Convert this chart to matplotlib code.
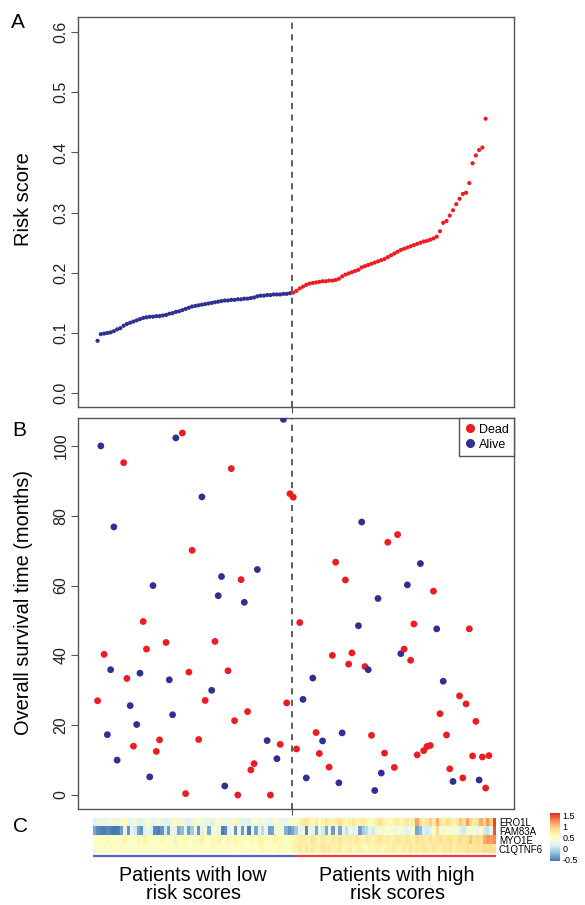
import matplotlib
matplotlib.use('Agg')
import matplotlib.pyplot as plt
from matplotlib.colors import LinearSegmentedColormap
from matplotlib.lines import Line2D

plt.rcParams['font.family'] = ['Liberation Sans', 'DejaVu Sans']

# Panel A - risk score of each patient, sorted
risk_score = [
    0.087, 0.098, 0.099, 0.100, 0.101, 0.103, 0.106, 0.108, 0.112, 0.115,
    0.117, 0.119, 0.121, 0.123, 0.125, 0.126, 0.127, 0.127, 0.128, 0.128,
    0.129, 0.130, 0.132, 0.133, 0.135, 0.136, 0.138, 0.140, 0.142, 0.144,
    0.145, 0.146, 0.147, 0.148, 0.149, 0.150, 0.151, 0.152, 0.153, 0.154,
    0.154, 0.155, 0.155, 0.156, 0.156, 0.157, 0.157, 0.158, 0.159, 0.161,
    0.162, 0.162, 0.163, 0.163, 0.164, 0.164, 0.164, 0.165, 0.165, 0.166,
    0.167, 0.170, 0.174, 0.177, 0.180, 0.182, 0.183, 0.184, 0.185, 0.186,
    0.186, 0.187, 0.187, 0.188, 0.190, 0.194, 0.197, 0.199, 0.201, 0.203,
    0.205, 0.209, 0.211, 0.213, 0.215, 0.217, 0.219, 0.221, 0.223, 0.226,
    0.229, 0.232, 0.235, 0.238, 0.240, 0.242, 0.244, 0.246, 0.248, 0.250,
    0.252, 0.253, 0.255, 0.257, 0.260, 0.269, 0.283, 0.286, 0.295, 0.304,
    0.314, 0.323, 0.331, 0.333, 0.349, 0.382, 0.395, 0.404, 0.408, 0.456,
]
n_low = 60
cutoff = 60.5

# Panel B - survival time and status, by patient rank
os_index = [
    1, 2, 3, 4, 5, 6, 7, 9, 10, 11, 12, 13, 14, 15, 16, 17, 18, 19, 20, 22,
    23, 24, 25, 27, 28, 29, 30, 32, 33, 34, 36, 37, 38, 39, 40, 41, 42, 43, 44, 45,
    46, 47, 48, 49, 50, 53, 54, 56, 57, 58, 59, 60,
    61, 62, 63, 64, 65, 67, 68, 69, 70, 72, 73, 74, 75, 76, 77, 78, 79, 81, 82, 83,
    84, 85, 86, 87, 88, 89, 90, 92, 93, 94, 95, 96, 97, 98, 99, 100, 101, 102, 103, 104,
    105, 106, 107, 108, 109, 110, 112, 113, 114, 115, 116, 117, 118, 119, 120, 121,
]
os_months = [
    27.0, 100.0, 40.3, 17.3, 35.9, 76.8, 10.0, 95.2, 33.4, 25.6,
    14.0, 20.2, 34.9, 49.7, 41.8, 5.2, 60.0, 12.5, 15.8, 43.7,
    33.0, 23.0, 102.3, 103.7, 0.4, 35.2, 70.1, 15.9, 85.4, 27.1,
    30.0, 44.0, 57.1, 62.6, 2.6, 35.6, 93.5, 21.3, 0.0, 61.7,
    55.2, 23.9, 7.2, 9.0, 64.6, 15.6, 0.0, 10.4, 14.5, 107.6,
    26.4, 86.3,
    85.3, 13.2, 49.4, 27.4, 4.9, 33.5, 17.9, 11.9, 15.5, 8.0,
    40.0, 66.7, 3.5, 17.8, 61.6, 37.5, 40.7, 48.5, 78.2, 36.8,
    35.9, 17.1, 1.3, 56.3, 6.3, 12.0, 72.4, 7.9, 74.6, 40.5,
    41.8, 60.2, 38.6, 49.0, 11.5, 66.3, 12.7, 13.9, 14.2, 58.4,
    47.6, 23.3, 32.6, 17.2, 7.5, 3.9, 28.4, 4.9, 26.1, 47.6,
    11.2, 21.1, 4.3, 10.9, 2.0, 11.3,
]
os_status = (
    'D A D A A A A D D A  D A A D D A A D D D  A A A D D D D D A D  '
    'A D A A A D D D D D  A D D D A A D A D A  D D '
    'D D D A A A D D A D  D D A A D D D A A D  A D A A A D D D D A  '
    'D A D D D A D D D D  A D A D D A D D D D  D D A D D D'
).split()

# Panel C - expression of the signature genes
genes = ['ERO1L', 'FAM83A', 'MYO1E', 'C1QTNF6']
ero1l = [
    0.15, 0.3, 0.25, 0.2, 0.3, 0.35, 0.3, 0.25, 0.45, 0.55,
    0.3, 0.25, 0.4, 0.15, 0.2, 0.35, 0.45, 0.3, 0.25, 0.4,
    0.3, 0.15, 0.2, 0.35, 0.55, 0.3, 0.4, 0.25, 0.15, 0.3,
    0.4, 0.55, 0.35, 0.25, 0.3, 0.15, 0.35, 0.45, 0.3, 0.25,
    0.35, 0.4, 0.6, 0.3, 0.2, 0.25, 0.15, 0.35, 0.45, 0.3,
    0.4, 0.35, 0.2, 0.3, 0.45, 0.35, 0.3, 0.25, 0.4, 0.5,
    0.45, 0.6, 0.75, 0.8, 0.7, 0.6, 0.75, 0.55, 0.65, 0.8,
    0.7, 0.6, 0.75, 0.85, 0.65, 0.55, 0.7, 0.8, 0.6, 0.7,
    0.75, 0.65, 0.55, 0.6, 0.7, 0.85, 0.7, 0.6, 0.55, 0.65,
    0.75, 0.6, 0.7, 0.8, 0.65, 0.75, 1.15, 0.85, 0.7, 0.8,
    0.95, 0.75, 1.1, 0.8, 0.7, 0.9, 0.75, 0.65, 0.8, 1.0,
    0.85, 1.15, 0.9, 0.75, 0.85, 1.1, 0.9, 1.2, 0.95, 1.5,
]
fam83a = [
    -0.3, -0.45, -0.5, -0.5, -0.45, -0.5, -0.55, -0.5, -0.35, 0.2,
    -0.4, 0.25, 0.1, -0.3, -0.4, 0.2, 0.35, 0.15, -0.45, -0.5,
    -0.4, 0.1, -0.35, 0.3, 0.2, -0.3, -0.2, 0.25, -0.35, -0.1,
    0.3, -0.4, 0.2, 0.35, -0.3, 0.3, 0.4, 0.25, -0.5, -0.45,
    0.2, 0.35, -0.4, 0.3, -0.35, 0.25, -0.5, 0.3, -0.3, 0.2,
    0.0, 0.3, -0.35, -0.3, 0.3, 0.4, 0.35, -0.25, -0.4, -0.3,
    -0.1, 0.25, 0.3, -0.45, 0.35, 0.2, -0.3, 0.3, 0.1, -0.3,
    0.35, -0.35, 0.3, -0.3, 0.25, 0.05, 0.3, 0.15, 0.3, -0.35,
    -0.1, 0.0, 0.2, 0.1, 0.4, 0.45, 0.35, 0.5, 0.4, 0.3,
    0.35, 0.45, 0.3, 0.2, 0.35, 0.4, -0.3, -0.2, 0.15, 0.1,
    0.2, 0.45, 0.9, 0.4, 0.35, 0.5, 0.4, 0.35, 0.45, 0.2,
    0.1, 0.35, 0.45, 0.4, 0.3, 0.45, 0.1, 0.05, 0.3, 1.45,
]
myo1e = [
    0.5, 0.55, 0.45, 0.5, 0.6, 0.55, 0.5, 0.45, 0.55, 0.65,
    0.5, 0.45, 0.55, 0.6, 0.5, 0.7, 0.55, 0.5, 0.45, 0.55,
    0.6, 0.5, 0.55, 0.45, 0.65, 0.5, 0.55, 0.6, 0.5, 0.45,
    0.55, 0.6, 0.7, 0.55, 0.5, 0.6, 0.55, 0.65, 0.5, 0.55,
    0.6, 0.5, 0.65, 0.55, 0.6, 0.5, 0.55, 0.6, 0.55, 0.65,
    0.6, 0.55, 0.5, 0.6, 0.65, 0.55, 0.6, 0.5, 0.55, 0.6,
    0.65, 0.7, 0.75, 0.65, 0.7, 0.8, 0.7, 0.65, 0.75, 0.7,
    0.65, 0.75, 0.7, 0.8, 0.7, 0.65, 0.75, 0.7, 0.8, 0.7,
    0.65, 0.75, 0.7, 0.65, 0.75, 0.8, 0.7, 0.75, 0.65, 0.7,
    0.8, 0.75, 0.7, 0.8, 0.75, 0.7, 0.85, 0.75, 0.8, 0.7,
    0.85, 0.75, 0.8, 0.9, 0.75, 0.8, 0.85, 0.75, 0.8, 0.9,
    0.8, 0.85, 1.0, 0.8, 0.9, 0.85, 1.1, 1.2, 1.15, 1.25,
]
c1qtnf6 = [
    0.45, 0.5, 0.45, 0.4, 0.5, 0.45, 0.5, 0.55, 0.45, 0.5,
    0.4, 0.45, 0.5, 0.45, 0.55, 0.5, 0.45, 0.4, 0.5, 0.45,
    0.5, 0.55, 0.45, 0.5, 0.45, 0.4, 0.5, 0.55, 0.45, 0.5,
    0.45, 0.5, 0.55, 0.45, 0.5, 0.4, 0.45, 0.5, 0.55, 0.5,
    0.45, 0.5, 0.55, 0.5, 0.45, 0.55, 0.5, 0.45, 0.5, 0.55,
    0.6, 0.5, 0.45, 0.55, 0.5, 0.6, 0.55, 0.5, 0.55, 0.6,
    0.7, 0.75, 0.65, 0.8, 0.7, 0.75, 0.65, 0.7, 0.8, 0.7,
    0.75, 0.65, 0.7, 0.75, 0.6, 0.65, 0.7, 0.6, 0.65, 0.7,
    0.6, 0.55, 0.65, 0.6, 0.7, 0.65, 0.6, 0.7, 0.65, 0.75,
    0.7, 0.65, 0.75, 0.7, 0.8, 0.7, 0.75, 0.7, 0.8, 0.75,
    0.7, 0.8, 0.75, 0.7, 0.8, 0.75, 0.85, 0.7, 0.8, 0.75,
    0.8, 0.85, 0.75, 0.8, 0.85, 0.8, 0.9, 0.85, 0.9, 0.85,
]
cbar_ticks = [1.5, 1, 0.5, 0, -0.5]
cbar_labels = ['1.5', '1', '0.5', '0', '-0.5']

RED = '#EF1B23'
BLUE = '#2E3192'
SPINE = '#555555'

W, H = 585, 905
fig = plt.figure(figsize=(W / 100, H / 100), dpi=100)


def px_axes(left, top, right, bottom):
    return fig.add_axes([left / W, 1 - bottom / H, (right - left) / W, (bottom - top) / H])


def style_axes(ax):
    for sp in ax.spines.values():
        sp.set_color(SPINE)
        sp.set_linewidth(1.0)
    ax.tick_params(axis='y', direction='out', length=5, width=0.8, color=SPINE,
                   labelsize=11.5, labelrotation=90, pad=2, labelcolor='#222222')
    for lab in ax.get_yticklabels():
        lab.set_va('center')
    ax.tick_params(axis='x', direction='out', length=4, width=0.8, color=SPINE)
    ax.set_xticks([cutoff])
    ax.set_xticklabels([])
    ax.set_xlim(-5.0, 128.7)
    ax.axvline(cutoff, color='#333333', lw=1.1, ls=(0, (4, 3.5)), zorder=1)


# ---- Panel A
axA = px_axes(78, 17, 514, 407)
idx = list(range(1, len(risk_score) + 1))
colA = [BLUE if i <= n_low else RED for i in idx]
axA.scatter(idx, risk_score, s=9, c=colA, linewidths=0, zorder=3)
axA.set_ylim(-0.023, 0.625)
axA.set_yticks([0.0, 0.1, 0.2, 0.3, 0.4, 0.5, 0.6])
axA.set_yticklabels(['0.0', '0.1', '0.2', '0.3', '0.4', '0.5', '0.6'])
style_axes(axA)
axA.set_ylabel('Risk score', fontsize=14.4, va='center')
axA.yaxis.set_label_coords(-0.124, 0.533)

# ---- Panel B
axB = px_axes(78, 418, 514, 809)
colB = [RED if s == 'D' else BLUE for s in os_status]
axB.scatter(os_index, os_months, s=24, c=colB, linewidths=0, zorder=3)
axB.set_ylim(-4.0, 108.0)
axB.set_yticks([0, 20, 40, 60, 80, 100])
style_axes(axB)
axB.set_ylabel('Overall survival time (months)', fontsize=14.4, va='center')
axB.yaxis.set_label_coords(-0.126, 0.529)
handles = [Line2D([], [], marker='o', ls='', color=RED, markersize=5.5),
           Line2D([], [], marker='o', ls='', color=BLUE, markersize=5.5)]
leg = axB.legend(handles, ['Dead', 'Alive'], loc='upper right', borderaxespad=0,
                 fancybox=False, edgecolor=SPINE, framealpha=1, fontsize=9,
                 handlelength=0.8, handletextpad=0.3, borderpad=0.45, labelspacing=0.25)
leg.get_frame().set_linewidth(1.0)

# ---- Panel C heatmap
cmap = LinearSegmentedColormap.from_list(
    'rdylbu7', ['#4575B4', '#91BFDB', '#E0F3F8', '#FFFFBF', '#FEE090', '#FC8D59', '#D73027'])
axC = px_axes(93, 818, 496, 858)
im = axC.imshow([ero1l, fam83a, myo1e, c1qtnf6], aspect='auto', cmap=cmap,
                vmin=-0.55, vmax=1.6, interpolation='nearest')
for sp in axC.spines.values():
    sp.set_visible(False)
axC.set_xticks([])
axC.yaxis.tick_right()
axC.set_yticks(range(len(genes)))
axC.set_yticklabels(genes)
axC.tick_params(axis='y', length=0, pad=2, labelsize=7)
ncol = len(ero1l)
axC.plot([-0.5, n_low - 0.5], [3.8, 3.8], color='#5B63B4', lw=1.6, clip_on=False,
         solid_capstyle='butt')
axC.plot([n_low - 0.5, ncol - 0.5], [3.8, 3.8], color='#EE3A3A', lw=1.6, clip_on=False,
         solid_capstyle='butt')

cax = px_axes(550, 813, 560, 861)
cb = fig.colorbar(im, cax=cax, ticks=cbar_ticks)
cb.outline.set_visible(False)
cb.ax.set_yticklabels(cbar_labels)
cb.ax.tick_params(length=0, labelsize=6.5, pad=2)

fig.text(193 / W, 1 - 866 / H, 'Patients with low\nrisk scores', ha='center', va='top',
         fontsize=14.2, linespacing=0.95)
fig.text(397 / W, 1 - 866 / H, 'Patients with high\nrisk scores', ha='center', va='top',
         fontsize=14.2, linespacing=0.95)

# panel letters
fig.text(18 / W, 1 - 22 / H, 'A', fontsize=15, ha='center', va='center')
fig.text(19 / W, 1 - 430 / H, 'B', fontsize=15, ha='center', va='center')
fig.text(20 / W, 1 - 826 / H, 'C', fontsize=15, ha='center', va='center')

fig.savefig('out.png', dpi=100)
